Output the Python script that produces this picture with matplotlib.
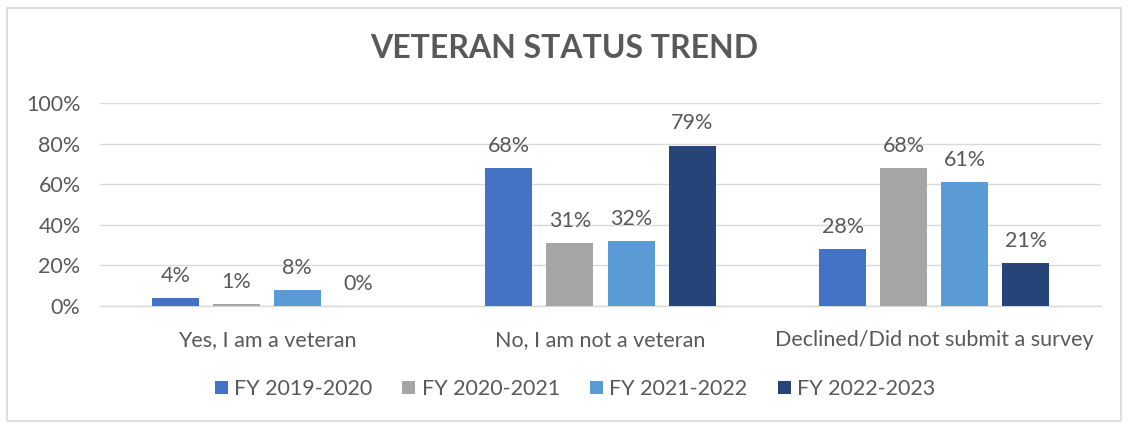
import matplotlib
matplotlib.use("Agg")
import matplotlib.pyplot as plt
import numpy as np
from matplotlib.patches import Rectangle

categories = ["Yes, I am a veteran", "No, I am not a veteran", "Declined/Did not submit a survey"]
series_names = ["FY 2019-2020", "FY 2020-2021", "FY 2021-2022", "FY 2022-2023"]
fy2019 = [4, 68, 28]
fy2020 = [1, 31, 68]
fy2021 = [8, 32, 61]
fy2022 = [0, 79, 21]
series_values = [fy2019, fy2020, fy2021, fy2022]
colors = ["#4472C4", "#A5A5A5", "#5B9BD5", "#264478"]
yticks = [0, 20, 40, 60, 80, 100]
ytick_labels = ["0%", "20%", "40%", "60%", "80%", "100%"]

plt.rcParams['font.family'] = ['Lato', 'DejaVu Sans']
txt = "#595959"
fs = 15.5

fig = plt.figure(figsize=(11.28, 4.28), dpi=100)
fig.patches.append(Rectangle((7/1128, 1-421/428), 1114/1128, 413/428, transform=fig.transFigure,
                             fill=False, edgecolor="#D9D9D9", linewidth=1.2))
ax = fig.add_axes([100/1128, 1-306/428, 1001/1128, 203/428])

x = np.arange(len(categories))
w = 0.141
step = 0.183
for i, (vals, c, name) in enumerate(zip(series_values, colors, series_names)):
    pos = x + (i - 1.5) * step
    ax.bar(pos, vals, width=w, color=c, label=name, zorder=3)
    for p, v in zip(pos, vals):
        ax.text(p, v + 6, f"{v}%", ha="center", va="bottom", fontsize=fs, color=txt, zorder=4)

ax.set_xlim(-0.5, 2.5)
ax.set_ylim(0, 100)
ax.set_yticks(yticks)
ax.set_yticklabels(ytick_labels, fontsize=fs, color=txt)
ax.set_xticks(x)
ax.set_xticklabels(categories, fontsize=fs, color=txt)
ax.tick_params(axis="x", length=0, pad=17)
ax.tick_params(axis="y", length=0, pad=14)
ax.grid(axis="y", color="#D9D9D9", linewidth=1, zorder=0)
for s in ["top", "right", "left"]:
    ax.spines[s].set_visible(False)
ax.spines["bottom"].set_color("#D9D9D9")
ax.spines["bottom"].set_linewidth(1)

fig.text(0.5, 1-48/428, "VETERAN STATUS TREND", ha="center", va="center",
         fontsize=23, fontweight="bold", color=txt)

leg = fig.legend(loc="center", bbox_to_anchor=(575/1128, 1-389/428), ncol=4, frameon=False,
                 fontsize=fs, handlelength=0.6, handleheight=0.6, handletextpad=0.3,
                 columnspacing=1.4)
for t in leg.get_texts():
    t.set_color(txt)

fig.savefig("out.png", dpi=100)
